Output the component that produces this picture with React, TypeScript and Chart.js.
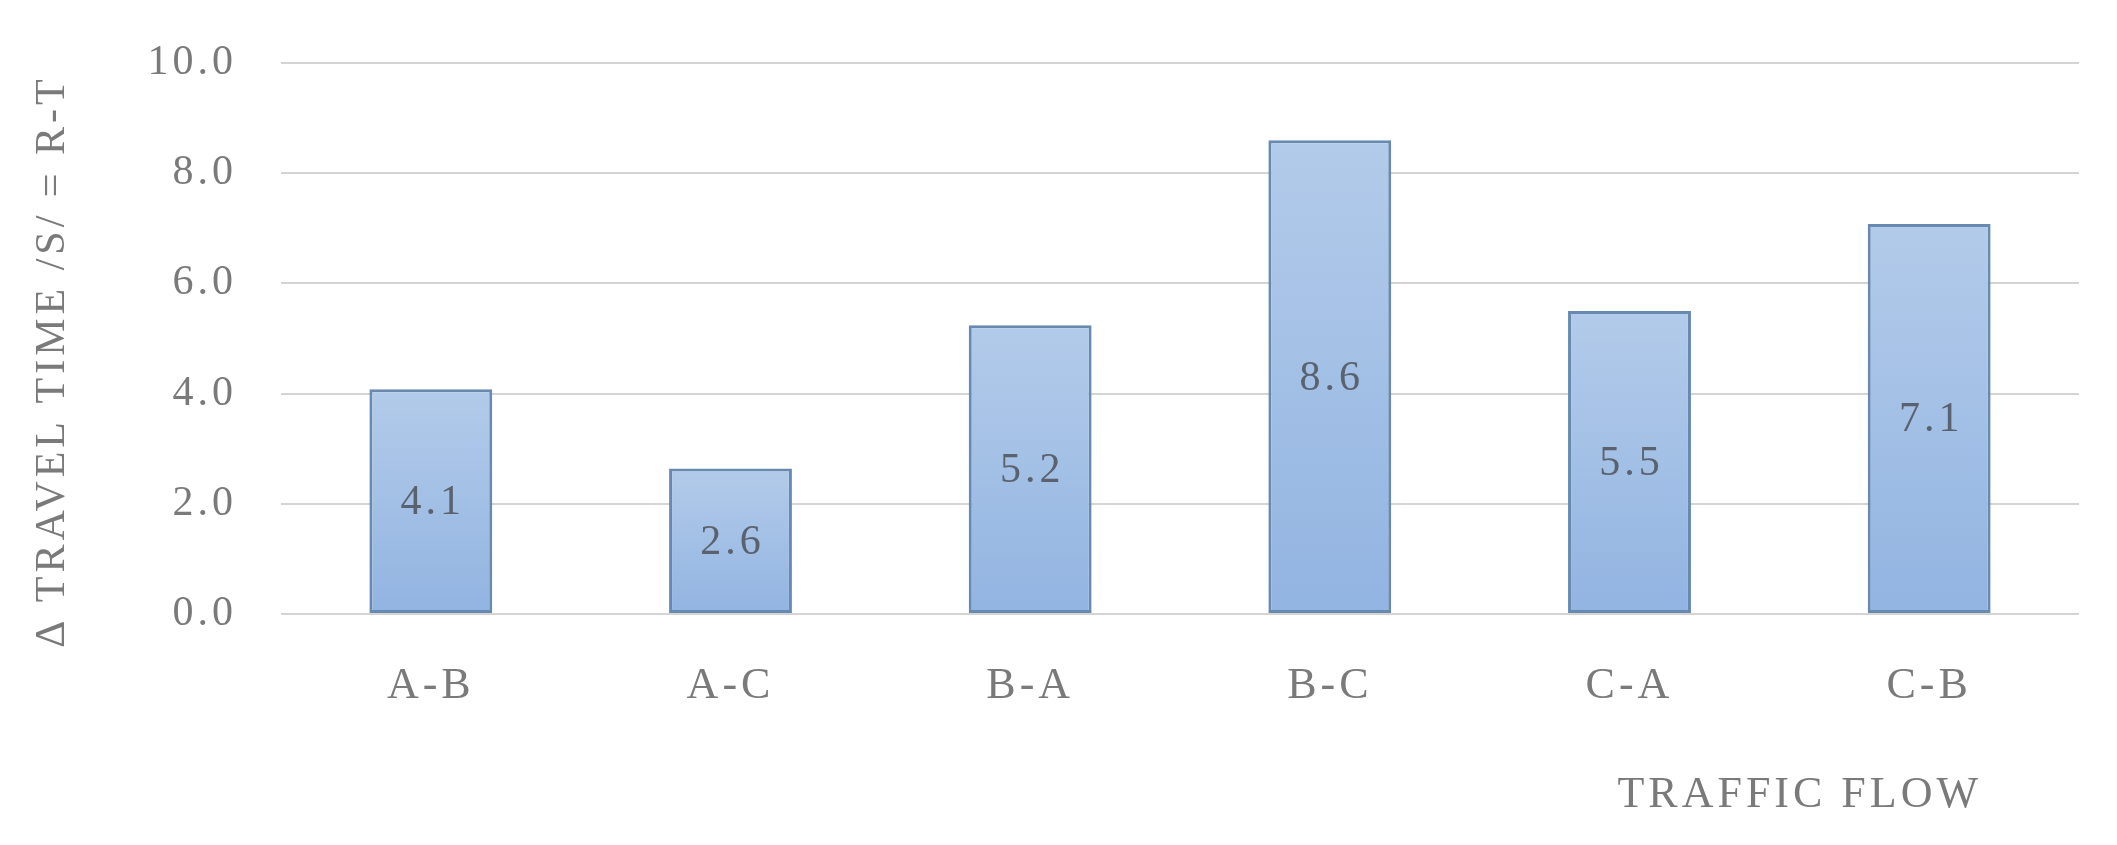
import React, { useEffect, useRef } from 'react';
import { Chart, registerables } from 'chart.js';

Chart.register(...registerables);

const categories = ['A-B', 'A-C', 'B-A', 'B-C', 'C-A', 'C-B'];
const travelTimeDelta = [4.08, 2.64, 5.24, 8.6, 5.5, 7.08];
const yTickValues = [0, 2, 4, 6, 8, 10];
const yTitle = '\u0394 TRAVEL TIME /S/ = R-T';
const xTitle = 'TRAFFIC FLOW';

const FONT = '"Liberation Serif", "Times New Roman", serif';
const FONT_SIZE = 42;
const X_FONT_SIZE = 44;
const SPACING = '4px';
const TEXT_GRAY = '#7a7a7a';
const LABEL_GRAY = '#5a6270';

const spacingPlugin = {
  id: 'letterSpacing',
  beforeLayout(chart: any) {
    (chart.ctx as any).letterSpacing = SPACING;
  },
  beforeDraw(chart: any) {
    (chart.ctx as any).letterSpacing = SPACING;
  },
};

const textPlugin = {
  id: 'extraText',
  afterDatasetsDraw(chart: any) {
    const ctx = chart.ctx;
    const meta = chart.getDatasetMeta(0);
    ctx.save();
    (ctx as any).letterSpacing = SPACING;
    ctx.font = `${FONT_SIZE}px ${FONT}`;
    ctx.fillStyle = LABEL_GRAY;
    ctx.textAlign = 'center';
    ctx.textBaseline = 'middle';
    meta.data.forEach((bar: any, i: number) => {
      const { x, y, base } = bar.getProps(['x', 'y', 'base'], true);
      ctx.fillText(travelTimeDelta[i].toFixed(1), x + 2, (y + base) / 2 + 2);
    });
    ctx.restore();
  },
  afterDraw(chart: any) {
    const ctx = chart.ctx;
    const area = chart.chartArea;
    ctx.save();
    (ctx as any).letterSpacing = SPACING;
    ctx.fillStyle = TEXT_GRAY;
    ctx.textBaseline = 'middle';
    ctx.textAlign = 'right';
    ctx.font = `${X_FONT_SIZE}px ${FONT}`;
    ctx.fillText(xTitle, area.right - 97, area.bottom + 181);
    ctx.font = `${FONT_SIZE}px ${FONT}`;
    ctx.translate(area.left - 228, (area.top + area.bottom) / 2 + 23);
    ctx.rotate(-Math.PI / 2);
    ctx.textAlign = 'center';
    ctx.fillText(yTitle, 0, 0);
    ctx.restore();
  },
};

export default function App() {
  const canvasRef = useRef<HTMLCanvasElement | null>(null);

  useEffect(() => {
    if (!canvasRef.current) return;
    const chart = new Chart(canvasRef.current, {
      type: 'bar',
      data: {
        labels: categories,
        datasets: [
          {
            data: travelTimeDelta,
            backgroundColor: (context: any) => {
              const c = context.chart;
              const yScale = c.scales?.y;
              const fallback = '#a3c0e6';
              if (!yScale || context.type !== 'data') return fallback;
              const v = travelTimeDelta[context.dataIndex];
              const top = yScale.getPixelForValue(v);
              const bottom = yScale.getPixelForValue(0);
              if (!Number.isFinite(top) || !Number.isFinite(bottom) || top === bottom) return fallback;
              const g = c.ctx.createLinearGradient(0, top, 0, bottom);
              g.addColorStop(0, '#b3cbea');
              g.addColorStop(1, '#92b4e1');
              return g;
            },
            borderColor: '#6889b0',
            borderWidth: 3,
            borderSkipped: false,
            categoryPercentage: 1,
            barPercentage: 0.41,
          },
        ],
      },
      options: {
        animation: false,
        responsive: true,
        maintainAspectRatio: false,
        layout: { padding: { top: 63, right: 38, left: 0, bottom: 0 } },
        plugins: {
          legend: { display: false },
          tooltip: { enabled: false },
        },
        scales: {
          x: {
            grid: { display: false, drawTicks: false },
            border: { display: false },
            ticks: {
              color: TEXT_GRAY,
              font: { family: FONT, size: X_FONT_SIZE },
              padding: 46,
            },
            afterFit: (scale: any) => {
              scale.height = 231;
              scale.paddingLeft = 0;
              scale.paddingRight = 0;
            },
          },
          y: {
            min: 0,
            max: 10,
            grid: { color: '#d4d4d4', lineWidth: 2, drawTicks: false },
            border: { display: false },
            ticks: {
              color: TEXT_GRAY,
              font: { family: FONT, size: FONT_SIZE },
              padding: 44,
              callback: (v: any) => Number(v).toFixed(1),
            },
            afterBuildTicks: (scale: any) => {
              scale.ticks = yTickValues.map((v) => ({ value: v }));
            },
            afterFit: (scale: any) => {
              scale.width = 281;
              scale.paddingTop = 0;
              scale.paddingBottom = 0;
            },
          },
        },
      },
      plugins: [spacingPlugin, textPlugin],
    });
    return () => chart.destroy();
  }, []);

  return (
    <div style={{ position: 'fixed', left: 0, top: 0, width: 2117, height: 845, background: '#ffffff' }}>
      <canvas ref={canvasRef} />
    </div>
  );
}
